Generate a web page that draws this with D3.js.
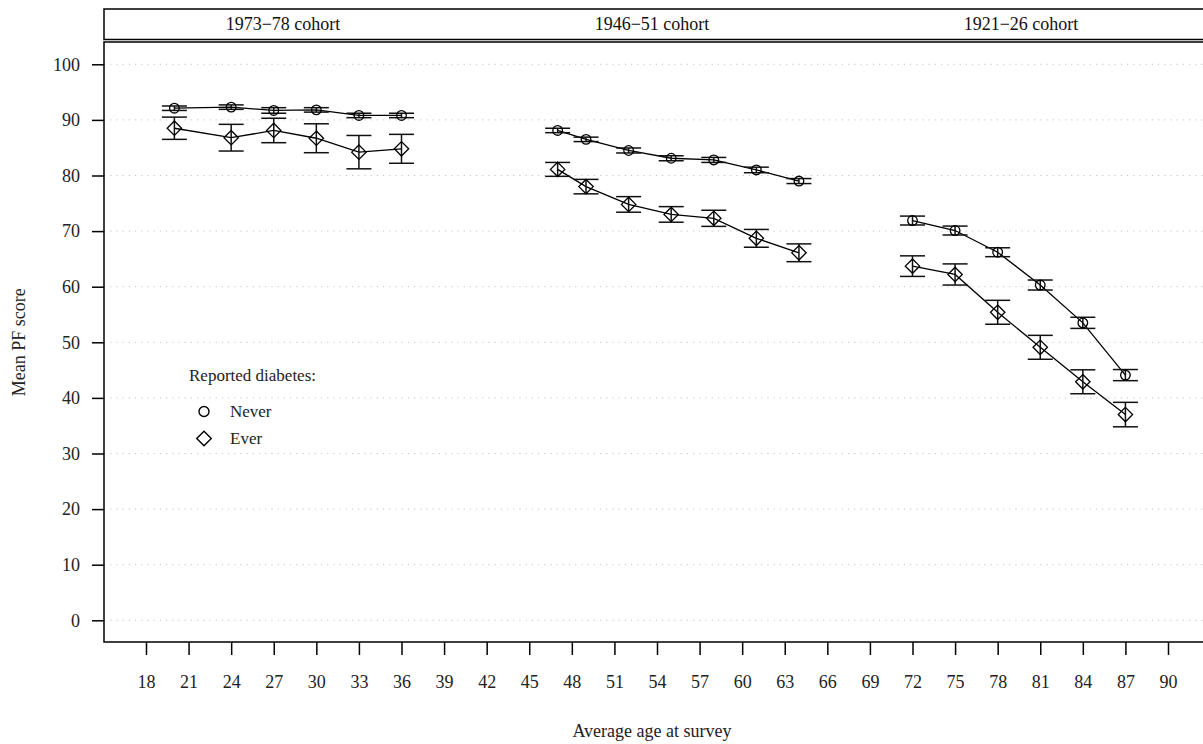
<!DOCTYPE html>
<html>
<head>
<meta charset="utf-8">
<script src="https://cdn.jsdelivr.net/npm/d3@7"></script>
<style>
  body { margin: 0; background: #fff; }
  svg text { font-family: "Liberation Serif", "DejaVu Serif", serif; }
</style>
</head>
<body>
<svg id="chart" width="1203" height="744"></svg>
<script>
/* values */
var cohorts = ["1973\u221278 cohort", "1946\u221251 cohort", "1921\u221226 cohort"];
var ages = [
    [20, 24, 27, 30, 33, 36],
    [47, 49, 52, 55, 58, 61, 64],
    [72, 75, 78, 81, 84, 87]
];
/* mean PF score, never reported diabetes */
var neverMean = [
    [92.1, 92.3, 91.7, 91.8, 90.8, 90.8],
    [88.1, 86.5, 84.5, 83.1, 82.8, 81.0, 79.0],
    [71.9, 70.1, 66.2, 60.3, 53.5, 44.1]
];
/* half width of the confidence interval */
var neverCI = [
    [0.4, 0.4, 0.5, 0.4, 0.4, 0.4],
    [0.4, 0.4, 0.45, 0.45, 0.45, 0.5, 0.45],
    [0.8, 0.8, 0.8, 0.9, 1.0, 1.0]
];
/* mean PF score, ever reported diabetes */
var everMean = [
    [88.5, 86.8, 88.1, 86.7, 84.2, 84.8],
    [81.1, 78.0, 74.8, 73.0, 72.3, 68.7, 66.1],
    [63.7, 62.2, 55.4, 49.1, 42.9, 37.0]
];
var everCI = [
    [2.0, 2.4, 2.2, 2.6, 3.0, 2.6],
    [1.25, 1.3, 1.4, 1.4, 1.45, 1.6, 1.6],
    [1.85, 1.9, 2.15, 2.15, 2.15, 2.2]
];
var xTicks = [18, 21, 24, 27, 30, 33, 36, 39, 42, 45, 48, 51, 54, 57, 60, 63, 66, 69, 72, 75, 78, 81, 84, 87, 90];
var yTicks = [0, 10, 20, 30, 40, 50, 60, 70, 80, 90, 100];
var legendLabels = ["Never", "Ever"];

/* layout */
var plotLeft = 104, plotRight = 1212, plotTop = 42, plotBottom = 642;
var fontSize = 18;

var x = d3.scaleLinear().domain([18, 90]).range([146, 1168]);
var y = d3.scaleLinear().domain([0, 100]).range([620.3, 64.3]);

var svg = d3.select("#chart");

/* header strip with cohort names */
svg.append("rect")
    .attr("x", plotLeft).attr("y", 9)
    .attr("width", plotRight - plotLeft).attr("height", 30.5)
    .attr("fill", "#fff")
    .attr("stroke", "#000")
    .attr("stroke-width", 1.5);

var headerX = [283, 652, 1021];
svg.selectAll(".cohort").data(cohorts)
    .enter().append("text")
    .attr("class", "cohort")
    .attr("x", function(d, i) { return headerX[i]; })
    .attr("y", 30)
    .attr("text-anchor", "middle")
    .attr("font-size", fontSize)
    .attr("fill", "#111")
    .text(function(d) { return d; });

/* dotted grid */
svg.append("g").selectAll("line").data(yTicks)
    .enter().append("line")
    .attr("x1", plotLeft).attr("x2", plotRight)
    .attr("y1", function(d) { return y(d); })
    .attr("y2", function(d) { return y(d); })
    .attr("stroke", "#c4c4c4")
    .attr("stroke-width", 1)
    .attr("stroke-dasharray", "1.2,5");

/* plot frame: top, left, bottom */
svg.append("path")
    .attr("d", "M" + plotRight + "," + plotTop + "H" + plotLeft + "V" + plotBottom + "H" + plotRight)
    .attr("fill", "none")
    .attr("stroke", "#000")
    .attr("stroke-width", 1.5);

/* y axis */
var yAxis = svg.append("g")
    .attr("transform", "translate(" + plotLeft + ",0)")
    .call(d3.axisLeft(y).tickValues(yTicks).tickSize(12).tickPadding(12));
yAxis.select(".domain").remove();
yAxis.selectAll("line").attr("stroke", "#000").attr("stroke-width", 1.5);
yAxis.selectAll("text")
    .attr("font-family", "Liberation Serif")
    .attr("font-size", fontSize)
    .attr("fill", "#222");

/* x axis */
var xAxis = svg.append("g")
    .attr("transform", "translate(0," + plotBottom + ")")
    .call(d3.axisBottom(x).tickValues(xTicks).tickSize(13).tickPadding(20));
xAxis.select(".domain").remove();
xAxis.selectAll("line").attr("stroke", "#000").attr("stroke-width", 1.5);
xAxis.selectAll("text")
    .attr("font-family", "Liberation Serif")
    .attr("font-size", fontSize)
    .attr("fill", "#222");

/* axis titles */
svg.append("text")
    .attr("transform", "translate(25," + y(50) + ")rotate(-90)")
    .attr("text-anchor", "middle")
    .attr("font-size", fontSize)
    .attr("fill", "#222")
    .text("Mean PF score");

svg.append("text")
    .attr("x", (x(18) + x(90)) / 2 - 5)
    .attr("y", 737)
    .attr("text-anchor", "middle")
    .attr("font-size", fontSize)
    .attr("fill", "#222")
    .text("Average age at survey");

/* marker shapes */
var circlePath = d3.symbol().type(d3.symbolCircle).size(Math.PI * 4.8 * 4.8);
function diamondPath(h) {
    return "M0," + (-h) + "L" + h + ",0L0," + h + "L" + (-h) + ",0Z";
}

var line = d3.line()
    .x(function(d) { return x(d.age); })
    .y(function(d) { return y(d.mean); });

var groups = [
    { means: neverMean, cis: neverCI, shape: "circle" },
    { means: everMean, cis: everCI, shape: "diamond" }
];

var plot = svg.append("g");

groups.forEach(function(g) {
    ages.forEach(function(agesC, c) {
        var pts = agesC.map(function(a, i) {
            return { age: a, mean: g.means[c][i], ci: g.cis[c][i] };
        });

        /* connecting line */
        plot.append("path")
            .datum(pts)
            .attr("fill", "none")
            .attr("stroke", "#000")
            .attr("stroke-width", 1.3)
            .attr("d", line);

        /* error bars */
        var bars = plot.append("g").selectAll("g").data(pts)
            .enter().append("g")
            .attr("stroke", "#111")
            .attr("stroke-width", 1.5);
        bars.append("line")
            .attr("x1", function(d) { return x(d.age); })
            .attr("x2", function(d) { return x(d.age); })
            .attr("y1", function(d) { return y(d.mean - d.ci); })
            .attr("y2", function(d) { return y(d.mean + d.ci); });
        bars.append("line")
            .attr("x1", function(d) { return x(d.age) - 12.5; })
            .attr("x2", function(d) { return x(d.age) + 12.5; })
            .attr("y1", function(d) { return y(d.mean + d.ci); })
            .attr("y2", function(d) { return y(d.mean + d.ci); });
        bars.append("line")
            .attr("x1", function(d) { return x(d.age) - 12.5; })
            .attr("x2", function(d) { return x(d.age) + 12.5; })
            .attr("y1", function(d) { return y(d.mean - d.ci); })
            .attr("y2", function(d) { return y(d.mean - d.ci); });

        /* hollow markers */
        plot.append("g").selectAll("path").data(pts)
            .enter().append("path")
            .attr("transform", function(d) { return "translate(" + x(d.age) + "," + y(d.mean) + ")"; })
            .attr("d", g.shape === "circle" ? circlePath() : diamondPath(7.2))
            .attr("fill", "none")
            .attr("stroke", "#000")
            .attr("stroke-width", 1.3);
    });
});

/* legend */
var legend = svg.append("g").attr("font-size", 17).attr("fill", "#222");
legend.append("text")
    .attr("x", 189).attr("y", 381)
    .text("Reported diabetes:");
var legendY = [411.5, 438.5];
legendLabels.forEach(function(lab, i) {
    legend.append("path")
        .attr("transform", "translate(204," + legendY[i] + ")")
        .attr("d", i === 0 ? d3.symbol().type(d3.symbolCircle).size(Math.PI * 5 * 5)() : diamondPath(7.3))
        .attr("fill", "none")
        .attr("stroke", "#000")
        .attr("stroke-width", 1.4);
    legend.append("text")
        .attr("x", 230).attr("y", legendY[i] + 5.5)
        .text(lab);
});
</script>
</body>
</html>
